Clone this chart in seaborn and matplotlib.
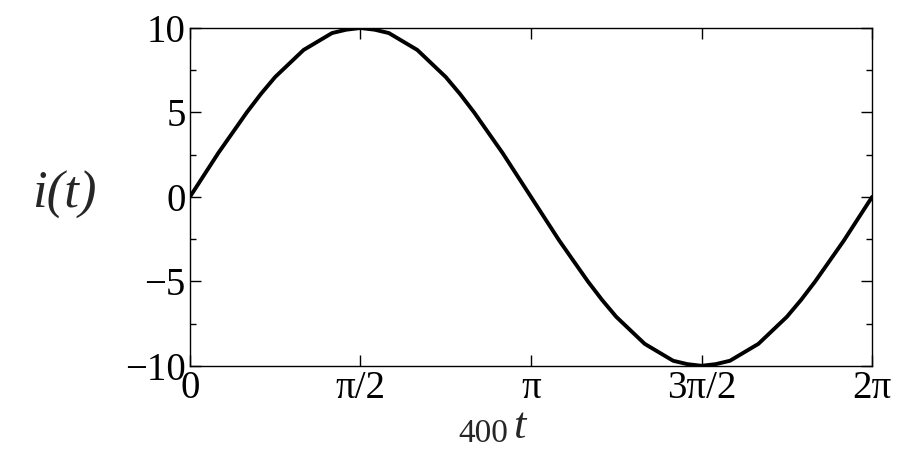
import numpy as np
import seaborn as sns
import matplotlib
matplotlib.use("Agg")
import matplotlib.pyplot as plt

# values, every pi/24 along the x axis
t_vals = [k * np.pi / 24 for k in range(49)]
quarter = [0, 1.3, 2.6, 3.8, 5.0, 6.1, 7.1, 7.9, 8.7, 9.2, 9.7, 9.9, 10]
half = quarter + quarter[-2::-1]
i_vals = half + [-v for v in half[1:]]
xtick_pos = [0, np.pi / 2, np.pi, 3 * np.pi / 2, 2 * np.pi]
xtick_lab = ["0", "π/2", "π", "3π/2", "2π"]
ytick_pos = [-10, -5, 0, 5, 10]
ytick_lab = ["\u221210", "\u22125", "0", "5", "10"]

sns.set_style("ticks")
plt.rcParams['font.family'] = ['Liberation Serif', 'DejaVu Serif']

fig = plt.figure(figsize=(9, 4.59), dpi=100)
ax = fig.add_axes([0.211, 0.203, 0.758, 0.736])
sns.lineplot(x=t_vals, y=i_vals, ax=ax, color='black', linewidth=2.8)

ax.set_xlim(0, 2 * np.pi)
ax.set_ylim(-10, 10)
ax.set_xticks(xtick_pos)
ax.set_xticklabels(xtick_lab)
ax.set_yticks(ytick_pos)
ax.set_yticklabels(ytick_lab)
ax.set_yticks([-7.5, -2.5, 2.5, 7.5], minor=True)
ax.tick_params(which='both', direction='in', top=True, right=True,
               labelsize=28, colors='black', width=1)
ax.tick_params(which='major', length=8, pad=3)
ax.tick_params(which='minor', length=4)
for s in ax.spines.values():
    s.set_linewidth(1)
    s.set_color('black')

fig.text(0.072, 0.575, "i(t)", fontsize=38, style='italic', ha='center', va='center')
fig.text(0.565, 0.055, "400", fontsize=24, ha='right', va='center')
fig.text(0.570, 0.07, "t", fontsize=32, style='italic', ha='left', va='center')

fig.savefig("out.png", dpi=100)
